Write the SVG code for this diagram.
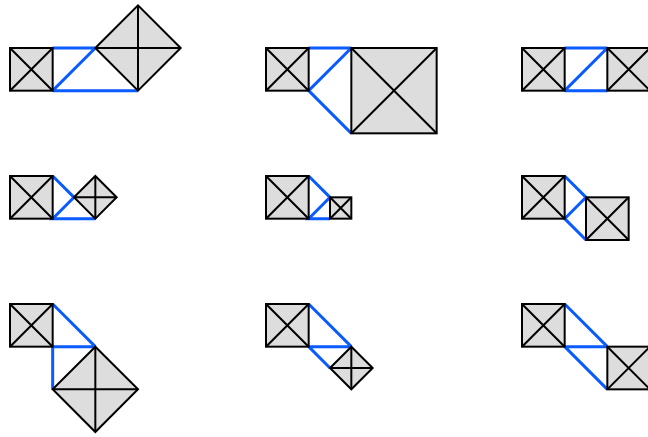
<svg xmlns="http://www.w3.org/2000/svg" width="648" height="437" viewBox="0 0 648 437">
<style>
.n{fill:#dddddd;stroke:#000;stroke-width:2;stroke-linejoin:miter}
.x{fill:none;stroke:#000;stroke-width:2}
.c{fill:none;stroke:#0a5cff;stroke-width:3;stroke-linecap:butt;stroke-linejoin:miter}
</style>
<defs>
<g id="sq1"><rect class="n" x="0" y="0" width="42.67" height="42.67"/><path class="x" d="M0,0L42.67,42.67M42.67,0L0,42.67"/></g>
</defs>
<rect width="648" height="437" fill="#fff"/>
<g id="connectors">
<g transform="translate(10,48)"><path class="c" d="M42.67,0H85.33M42.67,42.67L85.33,0M42.67,42.67H128"/></g>
<g transform="translate(266,48)"><path class="c" d="M42.67,0H85.33M42.67,42.67L85.33,0M42.67,42.67L85.33,85.33"/></g>
<g transform="translate(522,48)"><path class="c" d="M42.67,0H85.33M42.67,42.67L85.33,0M42.67,42.67H85.33"/></g>
<g transform="translate(10,176)"><path class="c" d="M42.67,0L64,21.33L42.67,42.67H85.33"/></g>
<g transform="translate(266,176)"><path class="c" d="M42.67,0L64,21.33L42.67,42.67H64"/></g>
<g transform="translate(522,176)"><path class="c" d="M42.67,0L64,21.33L42.67,42.67L64,64"/></g>
<g transform="translate(10,304)"><path class="c" d="M42.67,0L85.33,42.67M42.67,42.67H85.33M42.67,42.67V85.33"/></g>
<g transform="translate(266,304)"><path class="c" d="M42.67,0L85.33,42.67M42.67,42.67H85.33M42.67,42.67L64,64"/></g>
<g transform="translate(522,304)"><path class="c" d="M42.67,0L85.33,42.67M42.67,42.67H85.33M42.67,42.67L85.33,85.33"/></g>
</g>
<g id="p1a" transform="translate(10,48)"><use href="#sq1"/></g>
<g id="p1b" transform="translate(10,48)"><path class="n" d="M85.33,0L128,-42.67L170.67,0L128,42.67Z"/><path class="x" d="M85.33,0H170.67M128,-42.67V42.67"/></g>
<g id="p2a" transform="translate(266,48)"><use href="#sq1"/></g>
<g id="p2b" transform="translate(266,48)"><rect class="n" x="85.33" y="0" width="85.33" height="85.33"/><path class="x" d="M85.33,0L170.67,85.33M170.67,0L85.33,85.33"/></g>
<g id="p3a" transform="translate(522,48)"><use href="#sq1"/></g>
<g id="p3b" transform="translate(607.33,48)"><use href="#sq1"/></g>
<g id="p4a" transform="translate(10,176)"><use href="#sq1"/></g>
<g id="p4b" transform="translate(10,176)"><path class="n" d="M64,21.33L85.33,0L106.67,21.33L85.33,42.67Z"/><path class="x" d="M64,21.33H106.67M85.33,0V42.67"/></g>
<g id="p5a" transform="translate(266,176)"><use href="#sq1"/></g>
<g id="p5b" transform="translate(266,176)"><rect class="n" x="64" y="21.33" width="21.33" height="21.33"/><path class="x" d="M64,21.33L85.33,42.67M85.33,21.33L64,42.67"/></g>
<g id="p6a" transform="translate(522,176)"><use href="#sq1"/></g>
<g id="p6b" transform="translate(586,197.33)"><use href="#sq1"/></g>
<g id="p7a" transform="translate(10,304)"><use href="#sq1"/></g>
<g id="p7b" transform="translate(10,304)"><path class="n" d="M85.33,42.67L128,85.33L85.33,128L42.67,85.33Z"/><path class="x" d="M42.67,85.33H128M85.33,42.67V128"/></g>
<g id="p8a" transform="translate(266,304)"><use href="#sq1"/></g>
<g id="p8b" transform="translate(266,304)"><path class="n" d="M85.33,42.67L106.67,64L85.33,85.33L64,64Z"/><path class="x" d="M64,64H106.67M85.33,42.67V85.33"/></g>
<g id="p9a" transform="translate(522,304)"><use href="#sq1"/></g>
<g id="p9b" transform="translate(607.33,346.67)"><use href="#sq1"/></g>
</svg>
